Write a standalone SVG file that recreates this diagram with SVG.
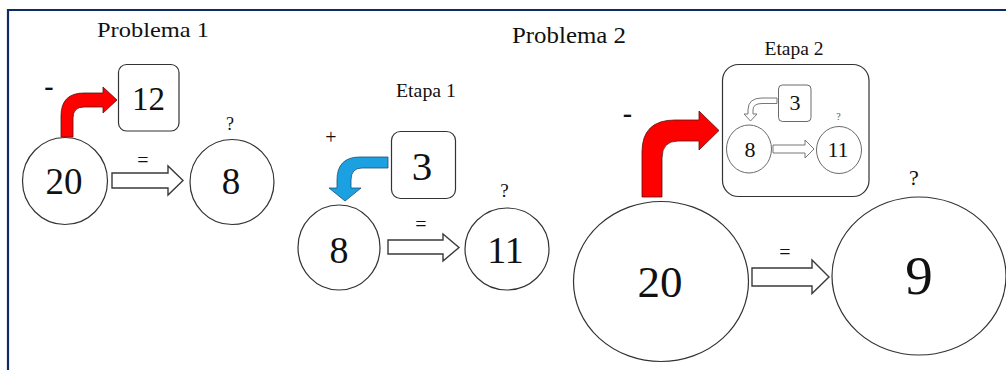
<svg xmlns="http://www.w3.org/2000/svg" width="1006" height="370" viewBox="0 0 1006 370">
<style>
text{font-family:"Liberation Serif","Times New Roman",serif;fill:#111;text-anchor:middle}
.node{fill:#fff;stroke:#333;stroke-width:1.2}
.inner{fill:#fff;stroke:#6a6a6a;stroke-width:1}
.hollow{fill:#fff;stroke:#3a3a3a;stroke-width:1.4;stroke-linejoin:miter}
.hollow-s{fill:#fff;stroke:#777;stroke-width:1}
.red{fill:#ff0000;stroke:#5a1010;stroke-width:0.8}
.blue{fill:#1ba1e2;stroke:#1a4f7a;stroke-width:0.8}
</style>
<rect width="1006" height="370" fill="#fff"/>
<path d="M8,370 V10 H1006" fill="none" stroke="#0f2b66" stroke-width="2.2"/>

<!-- titles -->
<g id="titles">
<text x="153" y="37" font-size="22" textLength="112" lengthAdjust="spacingAndGlyphs">Problema 1</text>
<text x="569" y="43" font-size="23" textLength="114" lengthAdjust="spacingAndGlyphs">Problema 2</text>
<text x="426" y="97" font-size="18" textLength="60" lengthAdjust="spacingAndGlyphs">Etapa 1</text>
<text x="794" y="55" font-size="18" textLength="59" lengthAdjust="spacingAndGlyphs">Etapa 2</text>
</g>

<!-- Etapa 2 (container with nested sub-diagram) -->
<g id="e2-box">
<rect class="node" x="722.5" y="64.5" width="146.5" height="132" rx="16"/>
<g id="e2-3"><rect class="inner" x="778.5" y="85" width="32.5" height="36.5" rx="4"/><text x="795" y="110" font-size="22">3</text></g>
<g id="e2-8"><ellipse class="inner" cx="749" cy="149" rx="22.5" ry="24"/><text x="750" y="156.5" font-size="22">8</text></g>
<g id="e2-11"><ellipse class="inner" cx="839" cy="150" rx="22.5" ry="23.5"/><text x="838" y="157.3" font-size="22">11</text></g>
<text x="838.5" y="120" font-size="10" style="fill:#555">?</text>
</g>

<!-- connectors -->
<g id="connectors">
<path id="p1-red" class="red" d="M61,137 V116 Q61,93 84,93 H103 V87 L117,100 L103,113 V107 H84 Q73,107 73,118 V137 Z"/>
<path id="p1-eq" class="hollow" d="M112,173 H168 V166 L183,180.5 L168,195 V188 H112 Z"/>
<path id="e1-blue" class="blue" d="M388,157 H360 Q337,157 337,180 V188 H329 L345,201 L361,188 H351 V180 Q351,168 362,168 H388 Z"/>
<path id="e1-eq" class="hollow" d="M388,240 H443 V234 L459,247.5 L443,261 V254 H388 Z"/>
<path id="p2-red" class="red" d="M642,197 V152 Q642,120 675,120 H699 V111 L719,130.5 L699,150 V141 H678 Q662,141 662,158 V197 Z"/>
<path id="p2-eq" class="hollow" d="M752,268 H812 V260 L829,277 L812,293.5 V286 H752 Z"/>
<path id="e2-small" class="hollow-s" d="M777,98 H762 Q748,98 748,110 V114 H744 L750.5,121 L757,114 H753 V110 Q753,103.5 762,103.5 H777 Z"/>
<path id="e2-eq" class="hollow-s" d="M773,145 H805 V140 L814,149 L805,158 V153 H773 Z"/>
</g>

<!-- operator / equality labels -->
<g id="labels">
<text x="49" y="95" font-size="28" font-weight="bold">-</text>
<text x="143" y="167" font-size="20">=</text>
<text x="230" y="130" font-size="18">?</text>
<text x="331" y="144" font-size="20">+</text>
<text x="421" y="231" font-size="20">=</text>
<text x="504.5" y="196.5" font-size="19">?</text>
<text x="627.5" y="122" font-size="28" font-weight="bold">-</text>
<text x="785" y="259" font-size="20">=</text>
<text x="914" y="185" font-size="22">?</text>
</g>

<!-- Problema 1 -->
<g id="p1-20"><ellipse class="node" cx="65" cy="181" rx="42.5" ry="43.5"/><text x="64" y="194" font-size="37">20</text></g>
<g id="p1-12"><rect class="node" x="118.5" y="64.5" width="60.5" height="66.5" rx="8"/><text x="148.5" y="110" font-size="33">12</text></g>
<g id="p1-8"><ellipse class="node" cx="232" cy="182" rx="42" ry="42.5"/><text x="231" y="194" font-size="37">8</text></g>

<!-- Etapa 1 -->
<g id="e1-3"><rect class="node" x="391.5" y="131.5" width="64" height="67" rx="9"/><text x="422" y="180" font-size="41">3</text></g>
<g id="e1-8"><ellipse class="node" cx="339" cy="247.5" rx="41" ry="42.5"/><text x="339" y="262.5" font-size="38">8</text></g>
<g id="e1-11"><ellipse class="node" cx="507" cy="249" rx="42" ry="41"/><text x="505.5" y="262.5" font-size="38">11</text></g>

<!-- Problema 2 -->
<g id="p2-20"><ellipse class="node" cx="661" cy="281.5" rx="87.5" ry="80"/><text x="660" y="297" font-size="45">20</text></g>
<g id="p2-9"><ellipse class="node" cx="919" cy="276" rx="87" ry="79"/><text x="919" y="294" font-size="55">9</text></g>
</svg>
